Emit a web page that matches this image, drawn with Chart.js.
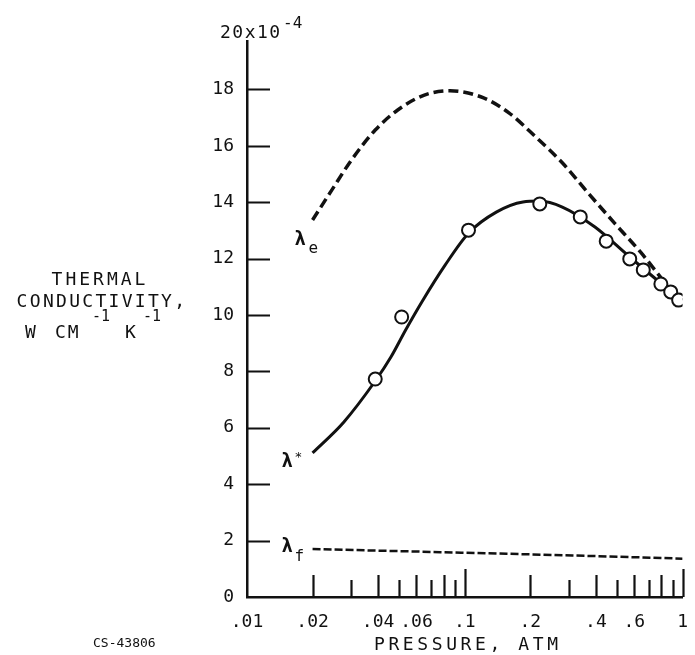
<!DOCTYPE html>
<html>
<head>
<meta charset="utf-8">
<script src="https://cdn.jsdelivr.net/npm/chart.js@4.4.0/dist/chart.umd.min.js"></script>
<style>
  html, body { margin: 0; padding: 0; background: #fff; }
  #wrap { width: 695px; height: 655px; position: relative; }
</style>
</head>
<body>
<div id="wrap"><canvas id="conductivityChart"></canvas></div>
<script>
// pressure in atm, conductivity in units of 1e-4 W cm^-1 K^-1

// lambda_e : equilibrium conductivity (dashed)
const pressureE = [0.02, 0.0245, 0.0302, 0.0388, 0.0492, 0.0652, 0.0855, 0.122, 0.16, 0.212, 0.281, 0.368, 0.487, 0.646, 0.8];
const lambdaE   = [13.37, 14.43, 15.5, 16.56, 17.27, 17.8, 17.95, 17.7, 17.16, 16.31, 15.39, 14.33, 13.26, 12.2, 11.3];

// lambda* : fitted curve (solid)
const pressureStar = [0.02, 0.0278, 0.0388, 0.0458, 0.0535, 0.0639, 0.0812, 0.1042, 0.1395, 0.185, 0.22, 0.2805, 0.396, 0.558, 0.795, 1.0];
const lambdaStar   = [5.11, 6.2, 7.66, 8.51, 9.47, 10.5, 11.77, 12.91, 13.65, 14.01, 14.04, 13.83, 13.12, 12.13, 11.13, 10.53];

// measured points (open circles)
const pressureMeas = [0.0388, 0.0513, 0.104, 0.221, 0.339, 0.446, 0.572, 0.66, 0.795, 0.882, 0.959];
const lambdaMeas   = [7.73, 9.93, 13.01, 13.94, 13.48, 12.62, 11.99, 11.6, 11.1, 10.82, 10.53];

// lambda_f : frozen conductivity (dashed)
const pressureF = [0.02, 0.1, 0.4, 1.0];
const lambdaF   = [1.7, 1.57, 1.45, 1.36];

// axis ticks
const xTickValues = [0.01, 0.02, 0.03, 0.04, 0.05, 0.06, 0.07, 0.08, 0.09, 0.1,
                     0.2, 0.3, 0.4, 0.5, 0.6, 0.7, 0.8, 0.9, 1];
const xLabelValues = [0.01, 0.02, 0.04, 0.06, 0.1, 0.2, 0.4, 0.6, 1];
const xLabelText   = ['.01', '.02', '.04', '.06', '.1', '.2', '.4', '.6', '1'];
const yTickValues  = [0, 2, 4, 6, 8, 10, 12, 14, 16, 18];

const ink = '#111';
const monoFont = "'DejaVu Sans Mono', 'Liberation Mono', monospace";

const toXY = (xs, ys) => xs.map((x, i) => ({ x: x, y: ys[i] }));

// tick marks point into the plot, lengths follow the log cycle
const inwardTicks = {
  id: 'inwardTicks',
  afterDatasetsDraw(chart) {
    const { ctx, chartArea, scales: { x, y } } = chart;
    ctx.save();
    ctx.strokeStyle = ink;
    ctx.lineWidth = 2.2;
    ctx.beginPath();
    x.ticks.forEach(t => {
      if (t.value <= 0.01) return;
      const px = Math.round(x.getPixelForValue(t.value)) + 0.5;
      const m = Math.round(t.value / Math.pow(10, Math.floor(Math.log10(t.value) + 1e-9)));
      const len = m === 1 ? 28 : (m % 2 === 0 ? 22 : 17);
      ctx.moveTo(px, chartArea.bottom);
      ctx.lineTo(px, chartArea.bottom - len);
    });
    y.ticks.forEach(t => {
      if (t.value === 0) return;
      const py = Math.round(y.getPixelForValue(t.value)) + 0.5;
      ctx.moveTo(chartArea.left, py);
      ctx.lineTo(chartArea.left + 23, py);
    });
    ctx.stroke();
    ctx.restore();
  }
};

// axis titles, exponent and curve names
const annotations = {
  id: 'annotations',
  afterDraw(chart) {
    const { ctx, chartArea, scales: { x, y } } = chart;
    const text = (s, px, py, font, align, spacing) => {
      ctx.font = font;
      ctx.textAlign = align || 'left';
      ctx.letterSpacing = (spacing || 0) + 'px';
      ctx.fillText(s, px, py);
    };
    ctx.save();
    ctx.fillStyle = ink;
    ctx.textBaseline = 'alphabetic';

    // y title
    text('THERMAL', 100, 285, '18px ' + monoFont, 'center', 3);
    text('CONDUCTIVITY,', 102, 307, '18px ' + monoFont, 'center', 2.3);
    text('W', 25, 338, '18px ' + monoFont);
    text('CM', 55, 338, '18px ' + monoFont, 'left', 2);
    text('-1', 92, 321, '15px ' + monoFont);
    text('K', 125, 338, '18px ' + monoFont);
    text('-1', 143, 321, '15px ' + monoFont);

    // x title
    text('PRESSURE, ATM', (chartArea.left + chartArea.right) / 2 + 3, 650, '18px ' + monoFont, 'center', 3.6);

    // exponent label over the y axis
    text('20x10', chartArea.left - 27, 38, '18px ' + monoFont, 'left', 1.5);
    text('-4', chartArea.left + 36, 28, '16px ' + monoFont);

    // curve names next to the start of each curve
    const ex = x.getPixelForValue(pressureE[0]), ey = y.getPixelForValue(lambdaE[0]);
    text('λ', ex - 18, ey + 25, 'bold 19px ' + monoFont);
    text('e', ex - 4, ey + 33, '16px ' + monoFont);

    const sx = x.getPixelForValue(pressureStar[0]), sy = y.getPixelForValue(lambdaStar[0]);
    text('λ', sx - 31, sy + 14, 'bold 19px ' + monoFont);
    text('*', sx - 18, sy + 8, '13px ' + monoFont);

    const fx = x.getPixelForValue(pressureF[0]), fy = y.getPixelForValue(lambdaF[0]);
    text('λ', fx - 31, fy + 3, 'bold 19px ' + monoFont);
    text('f', fx - 18, fy + 12, '16px ' + monoFont);

    // figure code
    text('CS-43806', 93, 647, '13px ' + monoFont);
    ctx.restore();
  }
};

new Chart(document.getElementById('conductivityChart'), {
  type: 'line',
  data: {
    datasets: [
      {
        label: 'data',
        data: toXY(pressureMeas, lambdaMeas),
        showLine: false,
        pointRadius: 6.5,
        pointBackgroundColor: '#fff',
        pointBorderColor: ink,
        pointBorderWidth: 2
      },
      {
        label: 'λ*',
        data: toXY(pressureStar, lambdaStar),
        borderColor: ink,
        borderWidth: 3,
        pointRadius: 0,
        cubicInterpolationMode: 'monotone'
      },
      {
        label: 'λe',
        data: toXY(pressureE, lambdaE),
        borderColor: ink,
        borderWidth: 3.5,
        borderDash: [10, 5],
        pointRadius: 0,
        cubicInterpolationMode: 'monotone'
      },
      {
        label: 'λf',
        data: toXY(pressureF, lambdaF),
        borderColor: ink,
        borderWidth: 2.5,
        borderDash: [8, 3],
        pointRadius: 0,
        cubicInterpolationMode: 'monotone'
      }
    ]
  },
  options: {
    responsive: true,
    maintainAspectRatio: false,
    animation: false,
    layout: { padding: { left: 187, right: 5, top: 41.5, bottom: 0 } },
    plugins: { legend: { display: false }, tooltip: { enabled: false } },
    scales: {
      x: {
        type: 'logarithmic',
        min: 0.01,
        max: 1,
        afterBuildTicks: s => { s.ticks = xTickValues.map(v => ({ value: v })); },
        afterFit: s => { s.height = 58; },
        grid: { display: false },
        border: { display: true, color: ink, width: 2.5 },
        ticks: {
          autoSkip: false,
          maxRotation: 0,
          padding: 7,
          color: ink,
          font: { family: monoFont, size: 18 },
          callback: v => {
            const i = xLabelValues.findIndex(l => Math.abs(l - v) < 1e-9);
            return i >= 0 ? xLabelText[i] : '';
          }
        }
      },
      y: {
        min: 0,
        max: 19.7,
        afterBuildTicks: s => { s.ticks = yTickValues.map(v => ({ value: v })); },
        afterFit: s => { s.width = 60; },
        grid: { display: false },
        border: { display: true, color: ink, width: 2.5 },
        ticks: {
          padding: 5,
          color: ink,
          font: { family: monoFont, size: 18 }
        }
      }
    }
  },
  plugins: [inwardTicks, annotations]
});
</script>
</body>
</html>
